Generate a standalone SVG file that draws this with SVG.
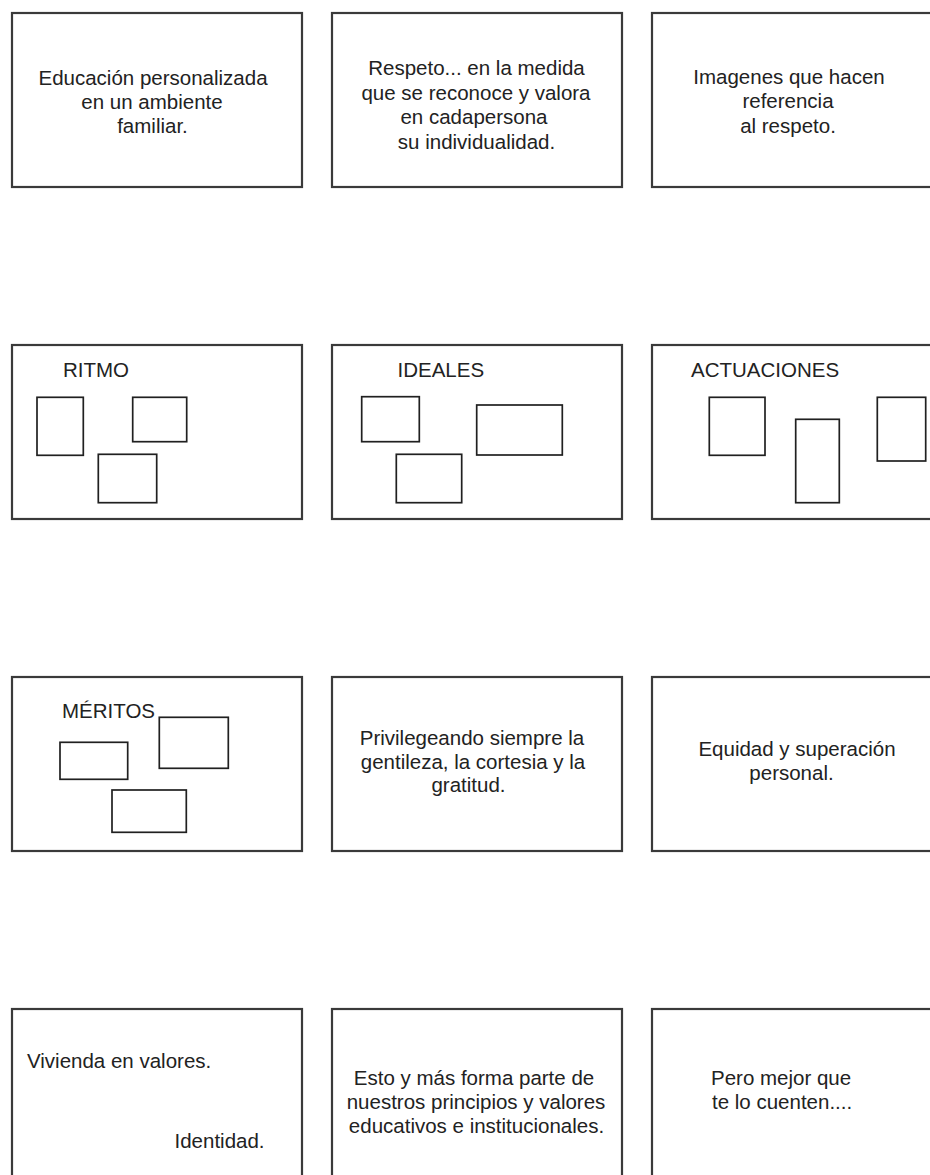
<svg xmlns="http://www.w3.org/2000/svg" width="930" height="1175" viewBox="0 0 930 1175">
  <style>
    .card { fill: #ffffff; stroke: #3a3a3a; stroke-width: 2.2; }
    .slot { fill: none; stroke: #202020; stroke-width: 1.7; }
    .txt { font-family: "Liberation Sans", Arial, sans-serif; font-size: 20.5px; fill: #222222; }
    .mid { text-anchor: middle; }
  </style>
  <rect x="0" y="0" width="930" height="1175" fill="#ffffff"/>

  <!-- row 1 -->
  <g id="card-educacion">
    <rect class="card" x="12" y="13" width="290" height="174"/>
    <text class="txt mid" x="153" y="85">Educación personalizada</text>
    <text class="txt mid" x="152" y="109">en un ambiente</text>
    <text class="txt mid" x="152.5" y="133">familiar.</text>
  </g>
  <g id="card-respeto">
    <rect class="card" x="332" y="13" width="290" height="174"/>
    <text class="txt mid" x="476.5" y="75">Respeto... en la medida</text>
    <text class="txt mid" x="476" y="99.5">que se reconoce y valora</text>
    <text class="txt mid" x="474" y="124">en cadapersona</text>
    <text class="txt mid" x="476.5" y="148.5">su individualidad.</text>
  </g>
  <g id="card-imagenes">
    <rect class="card" x="652" y="13" width="290" height="174"/>
    <text class="txt mid" x="789" y="84">Imagenes que hacen</text>
    <text class="txt mid" x="788" y="108">referencia</text>
    <text class="txt mid" x="788" y="132.5">al respeto.</text>
  </g>

  <!-- row 2 -->
  <g id="card-ritmo">
    <rect class="card" x="12" y="345" width="290" height="174"/>
    <text class="txt" x="63" y="376.5">RITMO</text>
    <rect class="slot" x="37" y="397.3" width="46.3" height="58"/>
    <rect class="slot" x="132.7" y="397.3" width="54" height="44.4"/>
    <rect class="slot" x="98.3" y="454.3" width="58.4" height="48.4"/>
  </g>
  <g id="card-ideales">
    <rect class="card" x="332" y="345" width="290" height="174"/>
    <text class="txt" x="397.5" y="376.5">IDEALES</text>
    <rect class="slot" x="361.7" y="396.7" width="57.6" height="45"/>
    <rect class="slot" x="476.7" y="405" width="85.6" height="50"/>
    <rect class="slot" x="396.3" y="454.3" width="65.4" height="48.4"/>
  </g>
  <g id="card-actuaciones">
    <rect class="card" x="652" y="345" width="290" height="174"/>
    <text class="txt" x="691" y="376.5">ACTUACIONES</text>
    <rect class="slot" x="709.3" y="397.3" width="55.7" height="58"/>
    <rect class="slot" x="795.7" y="419.3" width="43.6" height="83.4"/>
    <rect class="slot" x="877.3" y="397.3" width="48.4" height="63.7"/>
  </g>

  <!-- row 3 -->
  <g id="card-meritos">
    <rect class="card" x="12" y="677" width="290" height="174"/>
    <text class="txt" x="62" y="717.5">MÉRITOS</text>
    <rect class="slot" x="159.3" y="717.3" width="69" height="51"/>
    <rect class="slot" x="60" y="742.3" width="67.7" height="37"/>
    <rect class="slot" x="112" y="790" width="74.3" height="42.3"/>
  </g>
  <g id="card-privilegeando">
    <rect class="card" x="332" y="677" width="290" height="174"/>
    <text class="txt mid" x="472" y="745">Privilegeando siempre la</text>
    <text class="txt mid" x="473" y="768.5">gentileza, la cortesia y la</text>
    <text class="txt mid" x="468.5" y="792">gratitud.</text>
  </g>
  <g id="card-equidad">
    <rect class="card" x="652" y="677" width="290" height="174"/>
    <text class="txt mid" x="797" y="756">Equidad y superación</text>
    <text class="txt mid" x="791.5" y="779.5">personal.</text>
  </g>

  <!-- row 4 -->
  <g id="card-vivienda">
    <rect class="card" x="12" y="1009" width="290" height="174"/>
    <text class="txt" x="27" y="1068">Vivienda en valores.</text>
    <text class="txt" x="174.5" y="1148">Identidad.</text>
  </g>
  <g id="card-principios">
    <rect class="card" x="332" y="1009" width="290" height="174"/>
    <text class="txt mid" x="474" y="1084.5">Esto y más forma parte de</text>
    <text class="txt mid" x="476" y="1108.5">nuestros principios y valores</text>
    <text class="txt mid" x="476.5" y="1132.5">educativos e institucionales.</text>
  </g>
  <g id="card-cuenten">
    <rect class="card" x="652" y="1009" width="290" height="174"/>
    <text class="txt" x="711" y="1084.5">Pero mejor que</text>
    <text class="txt" x="712" y="1108.5">te lo cuenten....</text>
  </g>

  <!-- no connectors between cards -->
  <g id="connectors"/>
</svg>
